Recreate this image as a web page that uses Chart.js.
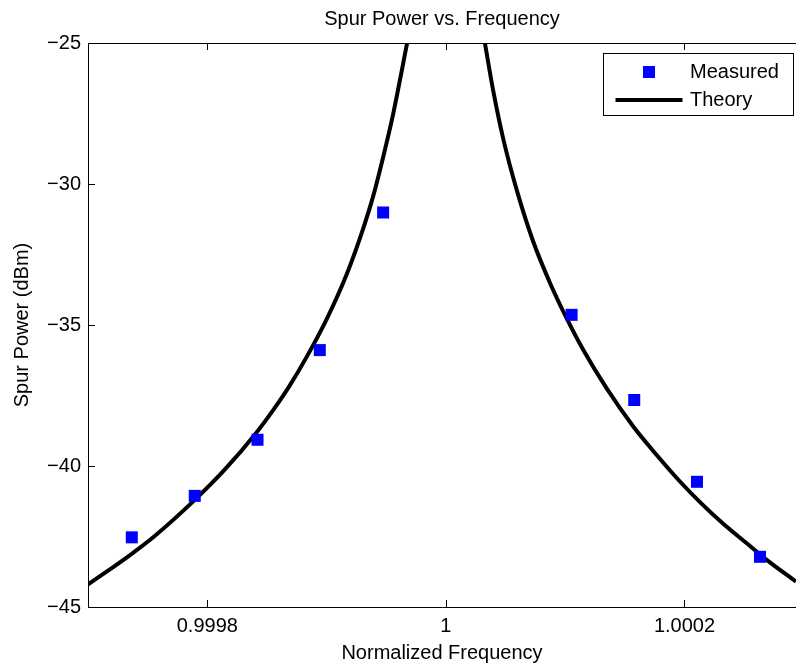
<!DOCTYPE html>
<html>
<head>
<meta charset="utf-8">
<script src="https://cdn.jsdelivr.net/npm/chart.js@4.4.1/dist/chart.umd.min.js"></script>
<style>
  html, body { margin: 0; padding: 0; background: #fff; overflow: hidden; }
  #wrap { width: 796px; height: 667px; position: relative; }
</style>
</head>
<body>
<div id="wrap"><canvas id="c"></canvas></div>
<script>
// ---- data ----
const measuredFreq  = [0.9997367, 0.9997895, 0.9998421, 0.9998943, 0.9999474, 1.0001054, 1.0001579, 1.0002105, 1.0002633];
const measuredPower = [-42.53, -41.06, -39.07, -35.89, -31.01, -34.64, -37.66, -40.56, -43.22];

const theoryLeftFreq  = [0.9996998, 0.9997361, 0.9997557, 0.9997893, 0.9998144, 0.9998413, 0.9998552, 0.9998692, 0.9998832, 0.9999000, 0.9999167, 0.9999306, 0.9999390, 0.9999474, 0.9999558, 0.9999628, 0.9999675];
const theoryLeftPower = [-44.21, -43.13, -42.49, -41.21, -40.14, -38.81, -38.02, -37.14, -36.14, -34.80, -33.22, -31.59, -30.44, -29.05, -27.52, -26.03, -25.00];

const theoryRightFreq  = [1.0000327, 1.0000397, 1.0000481, 1.0000593, 1.0000732, 1.0000872, 1.0001012, 1.0001151, 1.0001348, 1.0001571, 1.0001767, 1.0001962, 1.0002130, 1.0002325, 1.0002522, 1.0002689, 1.0002935];
const theoryRightPower = [-25.00, -26.70, -28.40, -30.20, -32.04, -33.50, -34.76, -35.88, -37.25, -38.60, -39.61, -40.55, -41.28, -42.05, -42.74, -43.33, -44.10];

const xTicks = [0.9998, 1, 1.0002];
const xTickLabels = ['0.9998', '1', '1.0002'];
const yTicks = [-45, -40, -35, -30, -25];
const yTickLabels = ['\u221245', '\u221240', '\u221235', '\u221230', '\u221225'];
const xMin = 0.9997, xMax = 1.0002935;
const yMin = -45, yMax = -25;

const pts = (xs, ys) => xs.map((x, i) => ({ x: x, y: ys[i] }));

Chart.defaults.font.family = "'Liberation Sans', Arial, Helvetica, sans-serif";
Chart.defaults.font.size = 20;
Chart.defaults.color = '#000';

const framePlugin = {
  id: 'framePlugin',
  afterDraw(chart) {
    const { ctx, chartArea: a, scales: { x, y } } = chart;
    ctx.save();
    ctx.strokeStyle = '#000';
    ctx.lineWidth = 1;
    ctx.beginPath();
    ctx.moveTo(a.left, a.top + 0.5);
    ctx.lineTo(a.right, a.top + 0.5);
    x.ticks.forEach(t => {
      const px = Math.round(x.getPixelForValue(t.value)) + 0.5;
      ctx.moveTo(px, a.bottom); ctx.lineTo(px, a.bottom - 7);
      ctx.moveTo(px, a.top); ctx.lineTo(px, a.top + 7);
    });
    y.ticks.forEach(t => {
      const py = Math.round(y.getPixelForValue(t.value)) + 0.5;
      ctx.moveTo(a.left, py); ctx.lineTo(a.left + 7, py);
    });
    ctx.stroke();

    // legend box
    const bw = 190, bh = 62;
    const bl = Math.round(a.right - 193) + 0.5, bt = Math.round(a.top + 10) + 0.5;
    ctx.fillStyle = '#fff';
    ctx.fillRect(bl, bt, bw, bh);
    ctx.strokeStyle = '#000';
    ctx.lineWidth = 1;
    ctx.strokeRect(bl, bt, bw, bh);
    const ds = chart.data.datasets;
    const r1 = bt + 18.5, r2 = bt + 46.5;
    ctx.fillStyle = ds[0].backgroundColor;
    ctx.fillRect(bl + 45.5 - 6, r1 - 6, 12, 12);
    ctx.strokeStyle = ds[1].borderColor;
    ctx.lineWidth = ds[1].borderWidth;
    ctx.beginPath();
    ctx.moveTo(bl + 12, r2); ctx.lineTo(bl + 79, r2);
    ctx.stroke();
    ctx.fillStyle = '#000';
    ctx.font = "20px 'Liberation Sans', Arial, Helvetica, sans-serif";
    ctx.textBaseline = 'middle';
    ctx.textAlign = 'left';
    ctx.fillText(ds[0].label, bl + 86.5, r1);
    ctx.fillText(ds[1].label, bl + 86.5, r2);
    ctx.restore();
  }
};

const theoryStyle = {
  showLine: true,
  borderColor: '#000000',
  backgroundColor: '#000000',
  borderWidth: 4,
  pointRadius: 0,
  fill: false,
  cubicInterpolationMode: 'monotone',
  order: 1
};

new Chart(document.getElementById('c'), {
  type: 'scatter',
  data: {
    datasets: [
      {
        label: 'Measured',
        data: pts(measuredFreq, measuredPower),
        showLine: false,
        pointStyle: 'rect',
        pointRadius: 8.5,
        pointHoverRadius: 8.5,
        backgroundColor: '#0000ff',
        borderColor: '#0000ff',
        borderWidth: 0,
        order: 0
      },
      Object.assign({ label: 'Theory', data: pts(theoryLeftFreq, theoryLeftPower) }, theoryStyle),
      Object.assign({ label: 'Theory', data: pts(theoryRightFreq, theoryRightPower) }, theoryStyle)
    ]
  },
  options: {
    responsive: true,
    maintainAspectRatio: false,
    animation: false,
    devicePixelRatio: 1,
    layout: { padding: 0, autoPadding: false },
    events: [],
    plugins: {
      legend: { display: false },
      tooltip: { enabled: false },
      title: {
        display: true,
        text: 'Spur Power vs. Frequency',
        fullSize: false,
        color: '#000',
        font: { size: 20, weight: 'normal' },
        padding: { top: 7, bottom: 12 }
      }
    },
    scales: {
      x: {
        type: 'linear',
        min: xMin,
        max: xMax,
        afterBuildTicks: s => { s.ticks = xTicks.map(v => ({ value: v })); },
        afterFit: s => { s.height = 60; },
        ticks: {
          callback: (v, i) => xTickLabels[i],
          padding: 7,
          maxRotation: 0,
          autoSkip: false,
          color: '#000',
          font: { size: 20 }
        },
        grid: { display: false, drawTicks: false },
        border: { display: true, color: '#000', width: 1 },
        title: {
          display: true,
          text: 'Normalized Frequency',
          color: '#000',
          font: { size: 20 },
          padding: { top: 0, bottom: 2 }
        }
      },
      y: {
        type: 'linear',
        min: yMin,
        max: yMax,
        afterBuildTicks: s => { s.ticks = yTicks.map(v => ({ value: v })); },
        afterFit: s => { s.width = 88; },
        ticks: {
          callback: (v, i) => yTickLabels[i],
          padding: 7,
          autoSkip: false,
          color: '#000',
          font: { size: 20 }
        },
        grid: { display: false, drawTicks: false },
        border: { display: true, color: '#000', width: 1 },
        title: {
          display: true,
          text: 'Spur Power (dBm)',
          color: '#000',
          font: { size: 20 },
          padding: { top: 10, bottom: 0 }
        }
      }
    }
  },
  plugins: [framePlugin]
});
</script>
</body>
</html>
